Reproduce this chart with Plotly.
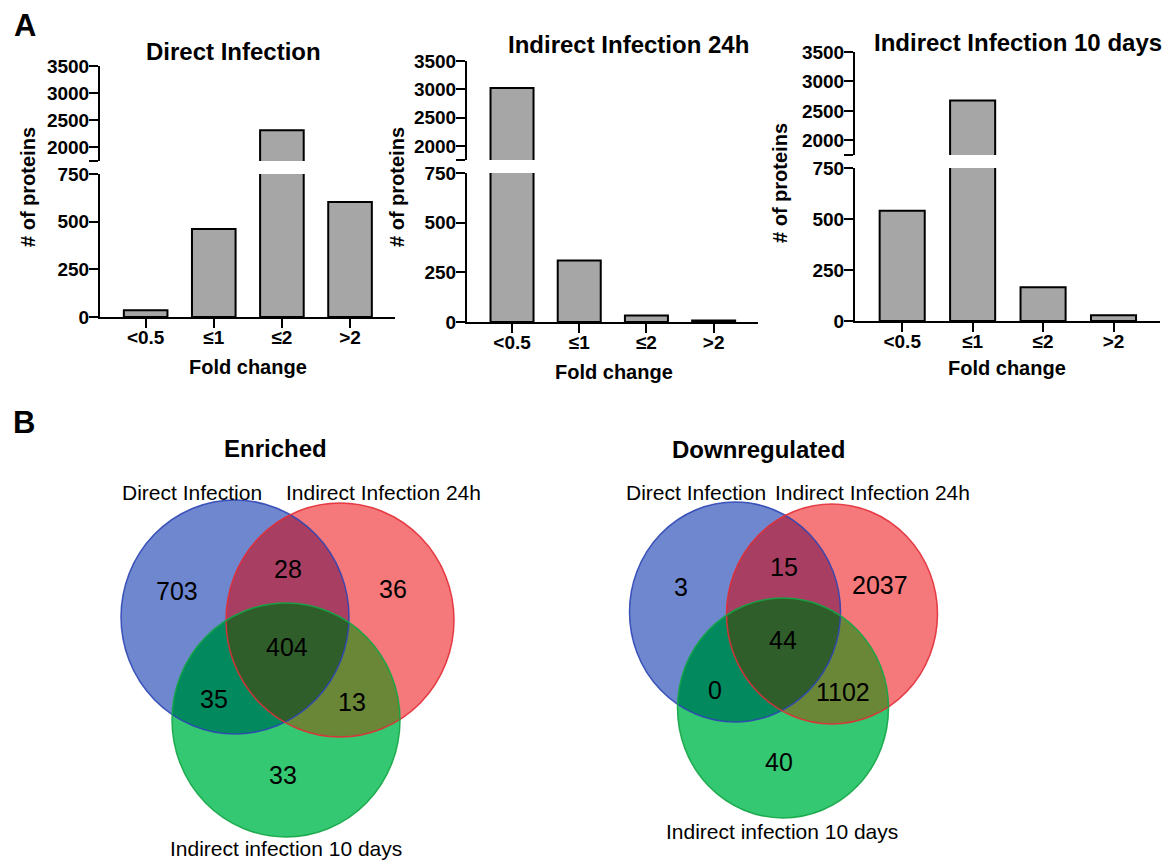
import numpy as np
import plotly.graph_objects as go

W, H = 1171, 861

# ---------------- data ----------------
categories = ["<0.5", "≤1", "≤2", ">2"]
direct_infection = [35, 461, 2317, 603]
indirect_24h = [3023, 310, 33, 7]
indirect_10d = [541, 2676, 165, 28]
panel_titles = ["Direct Infection", "Indirect Infection 24h", "Indirect Infection 10 days"]
lower_ticks = [0, 250, 500, 750]
upper_ticks = [1750, 2000, 2500, 3000, 3500]
upper_ticktext = ["", "2000", "2500", "3000", "3500"]

venn_set_labels = ["Direct Infection", "Indirect Infection 24h", "Indirect infection 10 days"]
# region order: D only, D&I24, I24 only, all, D&I10, I24&I10, I10 only
enriched_counts = [703, 28, 36, 404, 35, 13, 33]
downregulated_counts = [3, 15, 2037, 44, 0, 1102, 40]


def px(x):
    return x / W


def py(y):
    return 1 - y / H


BOLD = dict(family="Liberation Sans, Arial, sans-serif", color="black", weight="bold")
REG = dict(family="Liberation Sans, Arial, sans-serif", color="black")

# ---------------- layout geometry (pixels) ----------------
panels = [
    dict(x=(100, 395), low=(317, 174), up=(161, 66), title=(233, 52), ytitle=(28, 187), xtitle=(248, 367)),
    dict(x=(467, 758), low=(322, 173), up=(160, 61), title=(628, 44), ytitle=(397, 187), xtitle=(614, 372)),
    dict(x=(855, 1160), low=(321, 168), up=(155, 52), title=(1018, 42), ytitle=(780, 183), xtitle=(1007, 368)),
]
series = [direct_infection, indirect_24h, indirect_10d]

fig = go.Figure()
layout = dict(
    width=W, height=H, margin=dict(l=0, r=0, t=0, b=0, autoexpand=False),
    paper_bgcolor="white", plot_bgcolor="white", showlegend=False,
)
annotations = []
shapes = []

for i, (p, vals) in enumerate(zip(panels, series)):
    lo, up = 2 * i + 1, 2 * i + 2
    xd = [px(p["x"][0]), px(p["x"][1])]
    for ax in (lo, up):
        fig.add_trace(go.Bar(
            x=categories, y=vals, xaxis=f"x{ax}", yaxis=f"y{ax}", width=0.64,
            marker=dict(color="#a6a6a6", line=dict(color="black", width=2)),
            hoverinfo="skip",
        ))
    common_y = dict(showline=True, linecolor="black", linewidth=2, ticks="outside", ticklen=9,
                    tickwidth=2, tickcolor="black", showgrid=False, zeroline=False,
                    automargin=False, ticklabelstandoff=-4, tickfont=dict(size=19, **BOLD))
    layout[f"xaxis{lo}"] = dict(
        domain=xd, anchor=f"y{lo}", range=[-0.67, 3.66], type="category",
        showline=True, linecolor="black", linewidth=2, ticks="outside", ticklen=9,
        tickwidth=2, tickcolor="black", showgrid=False, zeroline=False, automargin=False,
        ticklabelstandoff=-7, tickfont=dict(size=19, **BOLD),
    )
    layout[f"xaxis{up}"] = dict(
        domain=xd, anchor=f"y{up}", matches=f"x{lo}", visible=False, automargin=False,
        range=[-0.67, 3.66], type="category",
    )
    layout[f"yaxis{lo}"] = dict(
        domain=[py(p["low"][0]), py(p["low"][1])], anchor=f"x{lo}", range=[0, 750],
        tickvals=lower_ticks, **common_y,
    )
    layout[f"yaxis{up}"] = dict(
        domain=[py(p["up"][0]), py(p["up"][1])], anchor=f"x{up}", range=[1750, 3500],
        tickvals=upper_ticks, ticktext=upper_ticktext, **common_y,
    )
    annotations.append(dict(text=panel_titles[i], x=px(p["title"][0]), y=py(p["title"][1]),
                            xref="paper", yref="paper", showarrow=False,
                            font=dict(size=24, **BOLD), xanchor="center", yanchor="middle"))
    annotations.append(dict(text="# of proteins", x=px(p["ytitle"][0]), y=py(p["ytitle"][1]),
                            xref="paper", yref="paper", showarrow=False, textangle=-90,
                            font=dict(size=20, **BOLD), xanchor="center", yanchor="middle"))
    annotations.append(dict(text="Fold change", x=px(p["xtitle"][0]), y=py(p["xtitle"][1]),
                            xref="paper", yref="paper", showarrow=False,
                            font=dict(size=20, **BOLD), xanchor="center", yanchor="middle"))

for letter, (lx, ly) in (("A", (25, 26)), ("B", (24, 422))):
    annotations.append(dict(text=letter, x=px(lx), y=py(ly), xref="paper", yref="paper",
                            showarrow=False, font=dict(size=31, **BOLD),
                            xanchor="center", yanchor="middle"))

# ---------------- Venn diagrams ----------------
venns = [
    dict(title="Enriched", title_pos=(275, 448),
         centers=[(235, 617), (340, 620), (286, 720)], r=(114, 117),
         label_pos=[(192, 492), (383, 492), (286, 848)],
         num_pos=[(177, 591), (288, 569), (393, 589), (287, 647), (214, 699), (352, 702), (283, 775)],
         counts=enriched_counts),
    dict(title="Downregulated", title_pos=(758, 449),
         centers=[(735, 612), (832, 614), (783, 708)], r=(105.5, 110),
         label_pos=[(696, 493), (872, 493), (782, 831)],
         num_pos=[(681, 587), (784, 567), (880, 585), (783, 640), (715, 690), (843, 692), (779, 762)],
         counts=downregulated_counts),
]

solo_colors = ["#6f87cf", "#f5787a", "#35c872"]
pair_colors = {(0, 1): "#a83e62", (0, 2): "#028a5e", (1, 2): "#6a8738"}
triple_color = "#305e2a"
line_colors = ["rgba(45,70,180,0.9)", "rgba(225,45,55,0.9)", "rgba(20,165,70,0.9)"]


def ell_pts(c, r, n=1440):
    t = np.linspace(0, 2 * np.pi, n, endpoint=False)
    return np.c_[c[0] + r[0] * np.cos(t), c[1] + r[1] * np.sin(t)]


def inside(P, c, r):
    return ((P[:, 0] - c[0]) / r[0]) ** 2 + ((P[:, 1] - c[1]) / r[1]) ** 2 <= 1 + 1e-9


def region_path(idx, centers, r):
    chunks = []
    for i in idx:
        P = ell_pts(centers[i], r)
        m = np.ones(len(P), bool)
        for j in idx:
            if j != i:
                m &= inside(P, centers[j], r)
        chunks.append(P[m])
    P = np.vstack(chunks)
    c = P.mean(0)
    P = P[np.argsort(np.arctan2(P[:, 1] - c[1], P[:, 0] - c[0]))]
    return "M " + " L ".join(f"{px(x):.5f},{py(y):.5f}" for x, y in P) + " Z"


for v in venns:
    cs, r = v["centers"], v["r"]
    for k, c in enumerate(cs):
        shapes.append(dict(type="circle", xref="paper", yref="paper",
                           x0=px(c[0] - r[0]), x1=px(c[0] + r[0]),
                           y0=py(c[1] + r[1]), y1=py(c[1] - r[1]),
                           fillcolor=solo_colors[k], line=dict(width=0)))
    for pair, col in pair_colors.items():
        shapes.append(dict(type="path", xref="paper", yref="paper",
                           path=region_path(list(pair), cs, r),
                           fillcolor=col, line=dict(width=0)))
    shapes.append(dict(type="path", xref="paper", yref="paper",
                       path=region_path([0, 1, 2], cs, r),
                       fillcolor=triple_color, line=dict(width=0)))
    for k, c in enumerate(cs):
        shapes.append(dict(type="circle", xref="paper", yref="paper",
                           x0=px(c[0] - r[0]), x1=px(c[0] + r[0]),
                           y0=py(c[1] + r[1]), y1=py(c[1] - r[1]),
                           fillcolor="rgba(0,0,0,0)", line=dict(color=line_colors[k], width=1.5)))
    annotations.append(dict(text=v["title"], x=px(v["title_pos"][0]), y=py(v["title_pos"][1]),
                            xref="paper", yref="paper", showarrow=False,
                            font=dict(size=24, **BOLD), xanchor="center", yanchor="middle"))
    for lab, (lx, ly) in zip(venn_set_labels, v["label_pos"]):
        annotations.append(dict(text=lab, x=px(lx), y=py(ly), xref="paper", yref="paper",
                                showarrow=False, font=dict(size=21, **REG),
                                xanchor="center", yanchor="middle"))
    for cnt, (nx, ny) in zip(v["counts"], v["num_pos"]):
        annotations.append(dict(text=str(cnt), x=px(nx), y=py(ny), xref="paper", yref="paper",
                                showarrow=False, font=dict(size=25, **REG),
                                xanchor="center", yanchor="middle"))

layout["annotations"] = annotations
layout["shapes"] = shapes
fig.update_layout(**layout)

fig.write_html("out.html", config={"displayModeBar": False},
               post_script="document.body.style.margin='0';")
